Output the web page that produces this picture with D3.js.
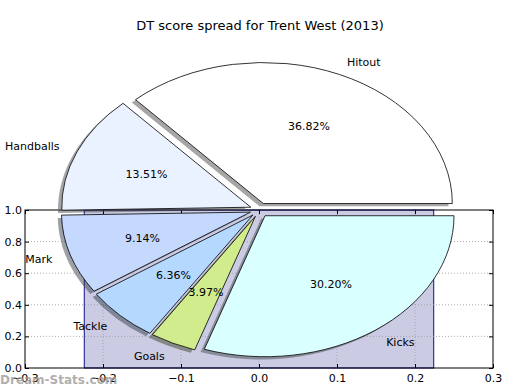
<!DOCTYPE html>
<html>
<head>
<meta charset="utf-8">
<script src="https://cdn.jsdelivr.net/npm/d3@7"></script>
<style>
  body { margin: 0; background: #fff; }
  text { font-family: "DejaVu Sans", sans-serif; fill: #000; }
</style>
</head>
<body>
<svg id="chart" width="520" height="390"></svg>
<script>
// pie data (percent of DT score)
var labels = ['Hitout', 'Handballs', 'Mark', 'Tackle', 'Goals', 'Kicks']
var values = [36.82, 13.51, 9.14, 6.36, 3.97, 30.20]
var colors = ['#ffffff', '#ebf2ff', '#c5d9ff', '#b5d8ff', '#d0ec8c', '#d9ffff']

// background bar axes
var barLeft = [-0.224]
var barWidth = [0.448]
var barHeight = [1.0]
var xTicks = [-0.3, -0.2, -0.1, 0.0, 0.1, 0.2, 0.3]
var yTicks = [0.0, 0.2, 0.4, 0.6, 0.8, 1.0]

var svg = d3.select('#chart')

// axes area
var x = d3.scaleLinear().domain([-0.3, 0.3]).range([25, 493])
var y = d3.scaleLinear().domain([0, 1]).range([368, 210])

var ax = svg.append('g')

ax.selectAll('.bar')
  .data(barLeft)
  .enter()
  .append('rect')
  .attr('x', (d) => x(d))
  .attr('y', (d, i) => y(barHeight[i]))
  .attr('width', (d, i) => x(d + barWidth[i]) - x(d))
  .attr('height', (d, i) => y(0) - y(barHeight[i]))
  .attr('fill', '#cbcbe4')
  .attr('stroke', '#10108f')
  .attr('stroke-width', 1)

// dotted grid
ax.selectAll('.gx')
  .data(xTicks.slice(1, -1))
  .enter()
  .append('line')
  .attr('x1', (d) => x(d)).attr('x2', (d) => x(d))
  .attr('y1', y(0)).attr('y2', y(1))
  .attr('stroke', '#999').attr('stroke-width', 0.8)
  .attr('stroke-dasharray', '1,2')
ax.selectAll('.gy')
  .data(yTicks.slice(1, -1))
  .enter()
  .append('line')
  .attr('y1', (d) => y(d)).attr('y2', (d) => y(d))
  .attr('x1', x(-0.3)).attr('x2', x(0.3))
  .attr('stroke', '#999').attr('stroke-width', 0.8)
  .attr('stroke-dasharray', '1,2')

// inward ticks on all four sides
var axBottom = ax.append('g').attr('transform', `translate(0,${y(0)})`)
  .call(d3.axisBottom(x).tickValues(xTicks).tickSizeInner(-4).tickSizeOuter(0).tickPadding(6)
    .tickFormat((d) => d3.format('.1f')(d).replace('-', '\u2212')))
var axTop = ax.append('g').attr('transform', `translate(0,${y(1)})`)
  .call(d3.axisTop(x).tickValues(xTicks).tickSizeInner(-4).tickSizeOuter(0).tickFormat(''))
var axLeft = ax.append('g').attr('transform', `translate(${x(-0.3)},0)`)
  .call(d3.axisLeft(y).tickValues(yTicks).tickSizeInner(-4).tickSizeOuter(0).tickPadding(3)
    .tickFormat(d3.format('.1f')))
var axRight = ax.append('g').attr('transform', `translate(${x(0.3)},0)`)
  .call(d3.axisRight(y).tickValues(yTicks).tickSizeInner(-4).tickSizeOuter(0).tickFormat(''))

;[axBottom, axTop, axLeft, axRight].forEach((g) => {
  g.select('.domain').remove()
  g.selectAll('line').attr('stroke', '#000')
  g.selectAll('text').attr('font-size', 11).attr('font-family', 'DejaVu Sans')
})

ax.append('rect')
  .attr('x', x(-0.3)).attr('y', y(1))
  .attr('width', x(0.3) - x(-0.3)).attr('height', y(0) - y(1))
  .attr('fill', 'none').attr('stroke', '#000').attr('stroke-width', 1)

// pie axes (stretched, not equal aspect)
var px = d3.scaleLinear().domain([-1, 1]).range([259.5 - 189, 259.5 + 189])
var py = d3.scaleLinear().domain([-1, 1]).range([210 + 141, 210 - 141])
var rx = px(1) - px(0)
var ry = py(-1) - py(0)
var explode = 0.05

// matplotlib: counterclockwise from 3 o'clock
var pie = d3.pie().sort(null).startAngle(Math.PI / 2).endAngle(Math.PI / 2 - 2 * Math.PI)
var arcs = pie(values)
var arc = d3.arc().innerRadius(0).outerRadius(1)

var pieG = svg.append('g')
  .attr('transform', `translate(${px(0)},${py(0)}) scale(${rx},${ry})`)

function mid(d) {
  return (d.startAngle + d.endAngle) / 2
}
function off(d) {
  var a = mid(d)
  return [explode * Math.sin(a), -explode * Math.cos(a)]
}

// shadows first, all under the wedges
pieG.selectAll('.shadow')
  .data(arcs)
  .enter()
  .append('path')
  .attr('d', arc)
  .attr('transform', (d) => `translate(${off(d)[0] - 0.02},${off(d)[1] + 0.02})`)
  .attr('fill', (d, i) => {
    var c = d3.rgb(colors[i])
    return d3.rgb(c.r * 0.3, c.g * 0.3, c.b * 0.3)
  })
  .attr('fill-opacity', 0.5)

pieG.selectAll('.wedge')
  .data(arcs)
  .enter()
  .append('path')
  .attr('d', arc)
  .attr('transform', (d) => `translate(${off(d)[0]},${off(d)[1]})`)
  .attr('fill', (d, i) => colors[i])
  .attr('stroke', '#000')
  .attr('stroke-width', 0.8)
  .attr('vector-effect', 'non-scaling-stroke')

// labels at 1.1 radius, percentages at 0.6
function pos(d, r) {
  var a = mid(d)
  var o = off(d)
  return [px(0) + (r * Math.sin(a) + o[0]) * rx, py(0) + (-r * Math.cos(a) + o[1]) * ry]
}

svg.selectAll('.label')
  .data(arcs)
  .enter()
  .append('text')
  .attr('x', (d) => pos(d, 1.1)[0])
  .attr('y', (d) => pos(d, 1.1)[1])
  .attr('dy', '0.36em')
  .attr('text-anchor', (d) => (Math.sin(mid(d)) > 0 ? 'start' : 'end'))
  .attr('font-size', 11)
  .text((d, i) => labels[i])

svg.selectAll('.pct')
  .data(arcs)
  .enter()
  .append('text')
  .attr('x', (d) => pos(d, 0.6)[0])
  .attr('y', (d) => pos(d, 0.6)[1])
  .attr('dy', '0.36em')
  .attr('text-anchor', 'middle')
  .attr('font-size', 11)
  .text((d) => d3.format('.2f')(d.value) + '%')

svg.append('text')
  .attr('x', 260)
  .attr('y', 30)
  .attr('text-anchor', 'middle')
  .attr('font-size', 13)
  .text('DT score spread for Trent West (2013)')

// watermark
svg.append('text')
  .attr('x', 0)
  .attr('y', 384)
  .attr('font-size', 12)
  .attr('font-weight', 'bold')
  .style('fill', '#999')
  .attr('fill-opacity', 0.8)
  .text('Dream-Stats.com')
</script>
</body>
</html>
